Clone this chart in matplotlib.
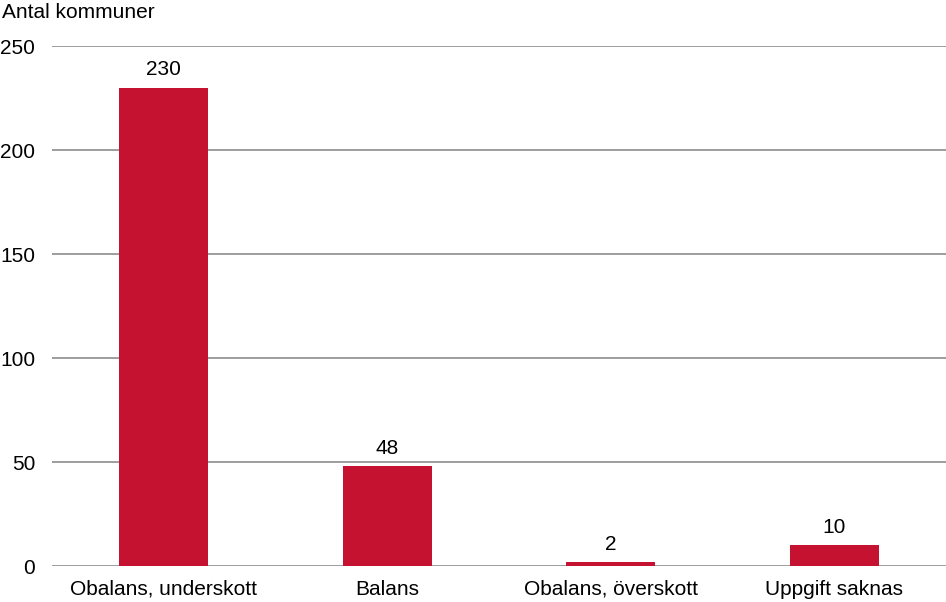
import matplotlib.pyplot as plt

categories = ["Obalans, underskott", "Balans", "Obalans, överskott", "Uppgift saknas"]
values = [230, 48, 2, 10]
yticks = [0, 50, 100, 150, 200, 250]

plt.rcParams["font.family"] = ["Liberation Sans", "DejaVu Sans"]

W, H = 946, 602
fig = plt.figure(figsize=(W / 100, H / 100), dpi=100)
ax = fig.add_axes([52 / W, (H - 566) / H, (946 - 52) / W, (566 - 46) / H])

x = range(len(categories))
bars = ax.bar(x, values, width=0.4, color="#C41230", zorder=3)
for b, v in zip(bars, values):
    ax.text(b.get_x() + b.get_width() / 2, v + 4, str(v), ha="center", va="bottom", fontsize=15)

ax.set_xlim(-0.5, len(categories) - 0.5)
ax.set_ylim(0, 250)
ax.set_yticks(yticks)
ax.set_xticks(list(x))
ax.set_xticklabels(categories)
ax.tick_params(axis="both", length=0, labelsize=15)
ax.tick_params(axis="y", pad=12)
ax.tick_params(axis="x", pad=10)
ax.grid(axis="y", color="#8c8c8c", linewidth=1.2, zorder=0)
for s in ax.spines.values():
    s.set_visible(False)

fig.text(2 / W, 1 - 3 / H, "Antal kommuner", ha="left", va="top", fontsize=15)

fig.savefig("out.png", dpi=100)
